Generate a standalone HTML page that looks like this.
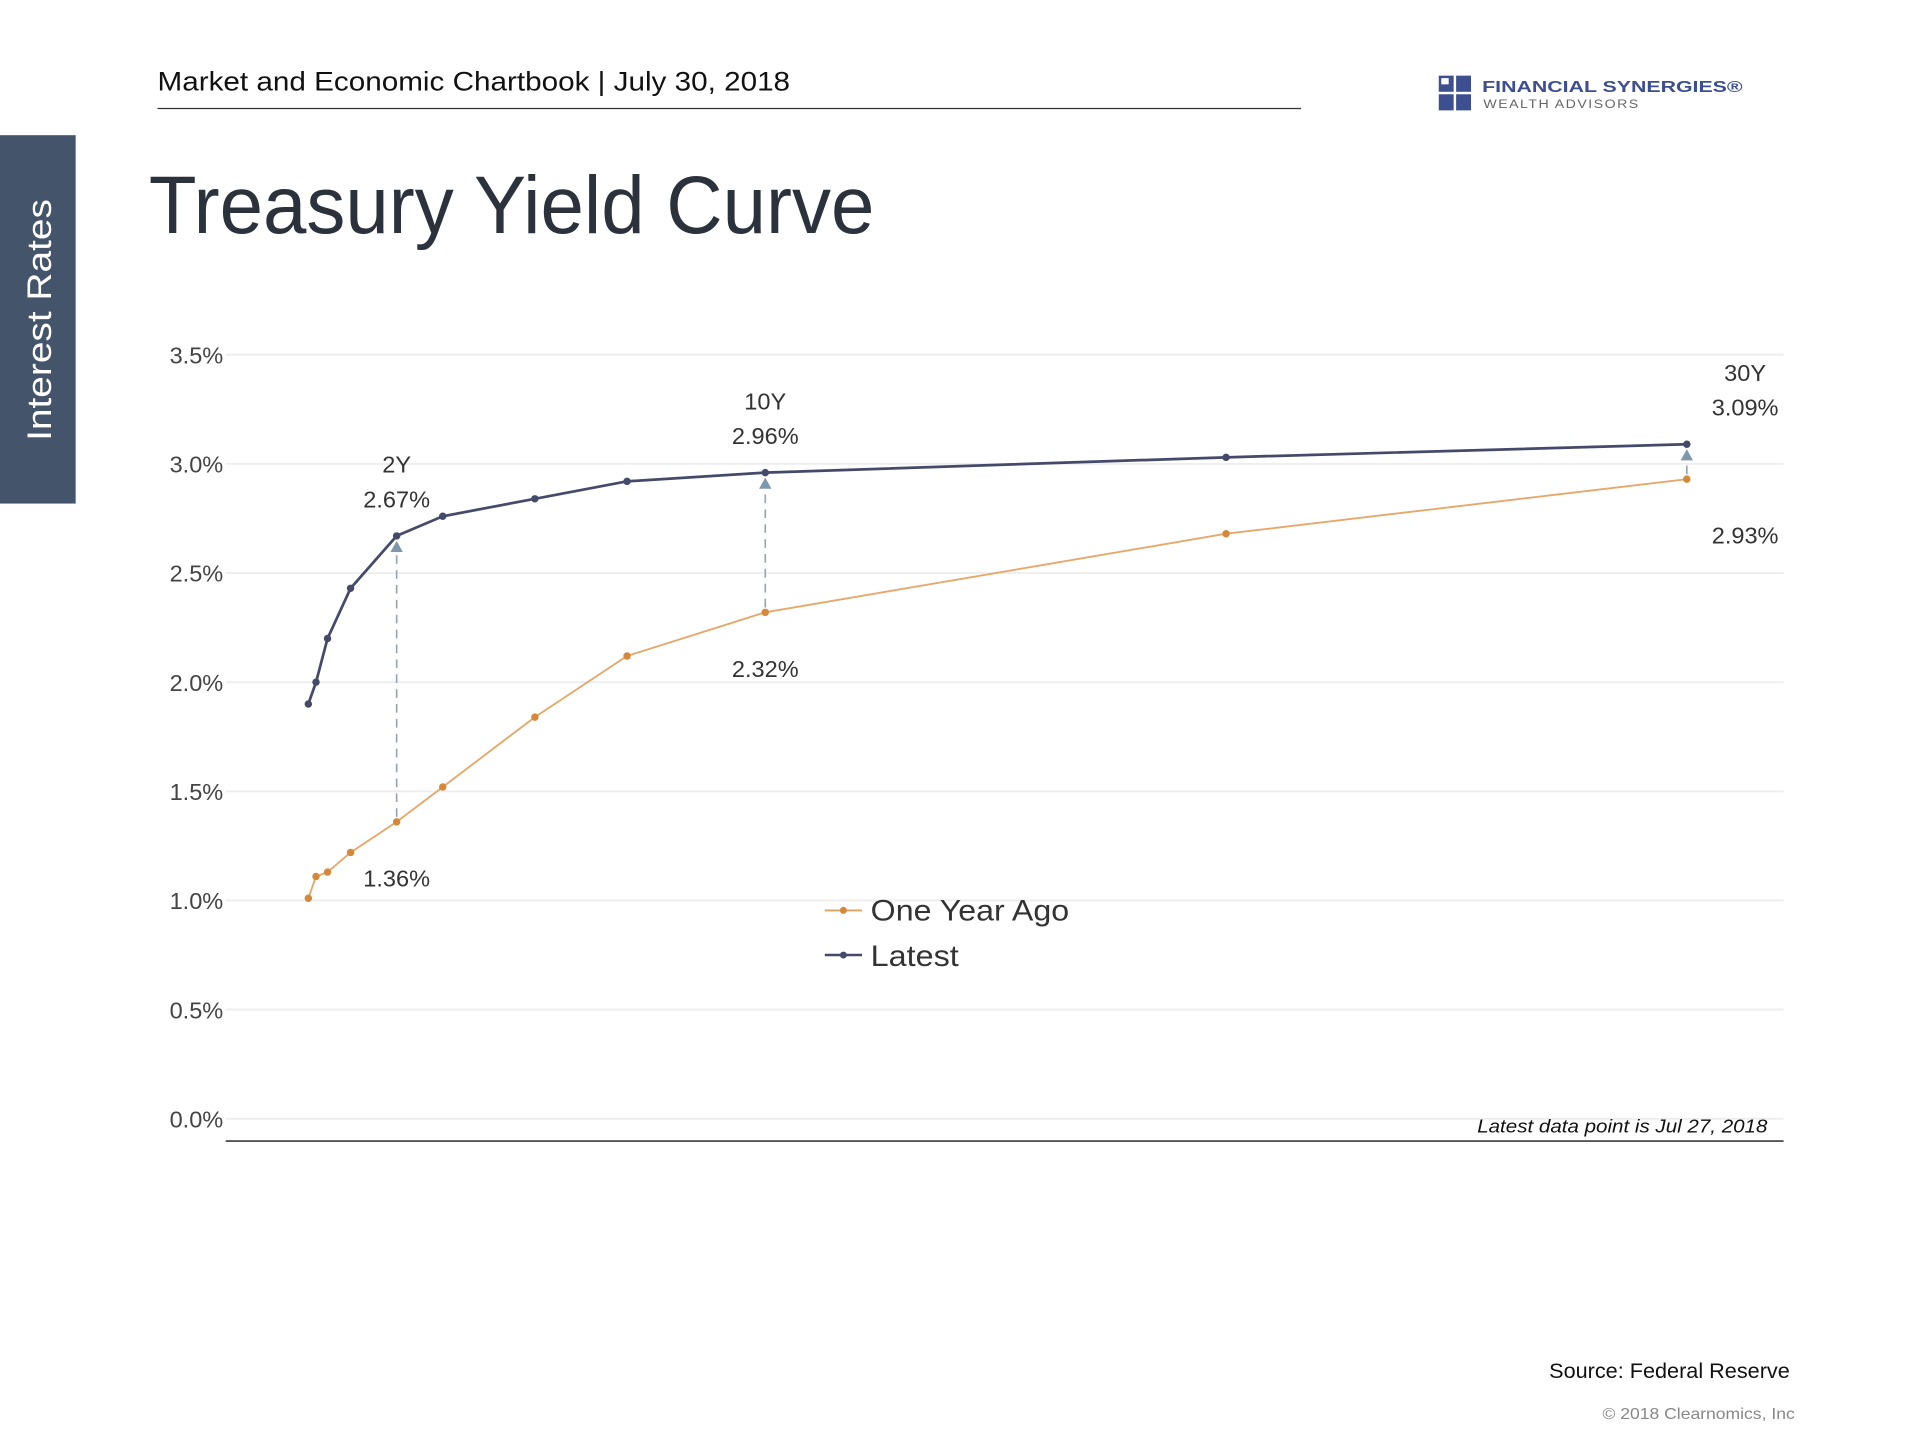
<!DOCTYPE html>
<html><head><meta charset="utf-8"><style>
html,body{margin:0;padding:0;background:#fff;}
svg{display:block;font-family:"Liberation Sans",sans-serif;}
</style></head><body>
<svg id="chart" width="1920" height="1440" viewBox="0 0 1548 1161" xmlns="http://www.w3.org/2000/svg">
<text x="127" y="73" font-size="22" fill="#111" textLength="510" lengthAdjust="spacingAndGlyphs">Market and Economic Chartbook | July 30, 2018</text>
<line x1="127" y1="87.5" x2="1049" y2="87.5" stroke="#333" stroke-width="1"/>
<g>
<rect x="1160" y="61" width="12" height="13" fill="#3d4f8f"/><rect x="1174" y="61" width="12" height="13" fill="#3d4f8f"/>
<rect x="1160" y="76" width="12" height="13" fill="#3d4f8f"/><rect x="1174" y="76" width="12" height="13" fill="#3d4f8f"/>
<rect x="1162" y="63" width="6" height="5" fill="#fff"/>
<text x="1195" y="74" font-size="13" font-weight="bold" fill="#3d4f8f" textLength="210" lengthAdjust="spacingAndGlyphs">FINANCIAL SYNERGIES®</text>
<text x="1196" y="87" font-size="9.5" fill="#666" letter-spacing="1" textLength="126" lengthAdjust="spacingAndGlyphs">WEALTH ADVISORS</text>
</g>
<rect x="0" y="109" width="61" height="297" fill="#44546a"/>
<text transform="translate(41,258) rotate(-90)" text-anchor="middle" font-size="28" fill="#fff" textLength="195" lengthAdjust="spacingAndGlyphs">Interest Rates</text>
<text x="120" y="188" font-size="66" fill="#2b323b" textLength="585" lengthAdjust="spacingAndGlyphs">Treasury Yield Curve</text>
<g id="grid"></g>
<g id="plot"></g>
<line x1="182" y1="920" x2="1438" y2="920" stroke="#555" stroke-width="1.5"/>
<text x="1425" y="913" text-anchor="end" font-size="15" font-style="italic" fill="#111" textLength="234" lengthAdjust="spacingAndGlyphs">Latest data point is Jul 27, 2018</text>
<g>
<line x1="665" y1="734" x2="695" y2="734" stroke="#e0a060" stroke-width="1.5"/><circle cx="680" cy="734" r="2.8" fill="#d4883a"/>
<text x="702" y="742" font-size="24" fill="#333" textLength="160" lengthAdjust="spacingAndGlyphs">One Year Ago</text>
<line x1="665" y1="770" x2="695" y2="770" stroke="#454a6b" stroke-width="2"/><circle cx="680" cy="770" r="2.8" fill="#454a6b"/>
<text x="702" y="779" font-size="24" fill="#333" textLength="71" lengthAdjust="spacingAndGlyphs">Latest</text>
</g>
<text x="1443" y="1111" text-anchor="end" font-size="17" fill="#111" textLength="194" lengthAdjust="spacingAndGlyphs">Source: Federal Reserve</text>
<text x="1447" y="1144" text-anchor="end" font-size="13" fill="#888" textLength="155" lengthAdjust="spacingAndGlyphs">© 2018 Clearnomics, Inc</text>
</svg>
<script>
const maturities = [0.083, 0.25, 0.5, 1, 2, 3, 5, 7, 10, 20, 30];
const latestValues = [1.90, 2.00, 2.20, 2.43, 2.67, 2.76, 2.84, 2.92, 2.96, 3.03, 3.09];
const yearAgoValues = [1.01, 1.11, 1.13, 1.22, 1.36, 1.52, 1.84, 2.12, 2.32, 2.68, 2.93];
const yTicks = [0, 0.5, 1.0, 1.5, 2.0, 2.5, 3.0, 3.5];
const yTickLabels = ["0.0%", "0.5%", "1.0%", "1.5%", "2.0%", "2.5%", "3.0%", "3.5%"];
const annotIdx = [4, 8, 10];
const annotNames = ["2Y", "10Y", "30Y"];

const NS = "http://www.w3.org/2000/svg";
const xS = v => 245.5 + v * 37.15;
const yS = v => 902 - v * 176;
function mk(tag, attrs, parent) { const e = document.createElementNS(NS, tag); for (const k in attrs) e.setAttribute(k, attrs[k]); parent.appendChild(e); return e; }
const grid = document.getElementById('grid'), plot = document.getElementById('plot');

yTicks.forEach((t, i) => {
  const l = mk('line', {x1: 182, x2: 1438, y1: yS(t), y2: yS(t), stroke: '#eeeeee', 'stroke-width': 1.5}, grid);
  
  
  const tx = mk('text', {x: 180, y: yS(t) + 7, 'text-anchor': 'end', 'font-size': 19, fill: '#444'}, grid);
  tx.textContent = yTickLabels[i];
  
  
});

annotIdx.forEach((idx, k) => {
  const x = xS(maturities[idx]);
  const d = mk('line', {x1: x, x2: x, y1: yS(yearAgoValues[idx]) - 4, y2: yS(latestValues[idx]) + 10, stroke: '#9aa3ad', 'stroke-width': 1.3, 'stroke-dasharray': '7,5'}, plot);
  
  
  const ty = yS(latestValues[idx]) + 4;
  const a = mk('polygon', {points: `${x},${ty} ${x-5},${ty+9} ${x+5},${ty+9}`, fill: '#7f97ac'}, plot);
  
  
  const cx = idx === 10 ? x + 47 : x;
  const t1 = mk('text', {x: cx, y: yS(latestValues[idx]) - 51, 'text-anchor': 'middle', 'font-size': 19, fill: '#333'}, plot);
  t1.textContent = annotNames[k];
  
  
  const t2 = mk('text', {x: cx, y: yS(latestValues[idx]) - 23, 'text-anchor': 'middle', 'font-size': 19, fill: '#333'}, plot);
  t2.textContent = latestValues[idx].toFixed(2) + '%';
  
  
  const t3 = mk('text', {x: cx, y: yS(yearAgoValues[idx]) + 52, 'text-anchor': 'middle', 'font-size': 19, fill: '#333'}, plot);
  t3.textContent = yearAgoValues[idx].toFixed(2) + '%';
  
  
});

function series(vals, stroke, width, fill, name) {
  const p = mk('polyline', {points: vals.map((v, i) => xS(maturities[i]) + ',' + yS(v)).join(' '), fill: 'none', stroke: stroke, 'stroke-width': width}, plot);
  
  
  vals.forEach((v, i) => {
    const c = mk('circle', {cx: xS(maturities[i]), cy: yS(v), r: 3, fill: fill}, plot);
    
    
  });
}
series(yearAgoValues, '#e6a86a', 1.5, '#d4883a', 'one-year-ago');
series(latestValues, '#454a6b', 2.2, '#454a6b', 'latest');
</script>
</body></html>
